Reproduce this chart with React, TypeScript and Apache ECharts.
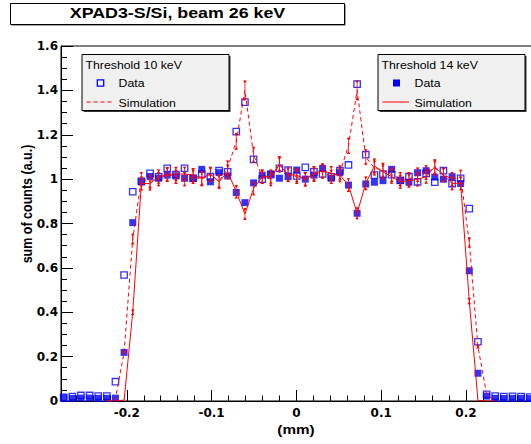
import React, { useEffect, useRef } from 'react';
import * as echarts from 'echarts';

// Pixel-column positions along the scan (mm)
const positionsMm = [
  -0.2744, -0.2642, -0.2541, -0.2439, -0.2337, -0.2235, -0.2134, -0.2032,
  -0.1930, -0.1828, -0.1726, -0.1625, -0.1523, -0.1421, -0.1319, -0.1218, -0.1116, -0.1014,
  -0.0912, -0.0811, -0.0709, -0.0607, -0.0505, -0.0403, -0.0302, -0.0200, -0.0098,
  0.0004, 0.0105, 0.0207, 0.0309, 0.0411, 0.0513, 0.0614, 0.0716, 0.0818, 0.0920,
  0.1021, 0.1123, 0.1225, 0.1327, 0.1429, 0.1530, 0.1632, 0.1734, 0.1836, 0.1937,
  0.2039, 0.2141, 0.2243, 0.2344, 0.2446, 0.2548, 0.2650, 0.2751,
];

// Threshold 10 keV, measured (open squares)
const data10keV = [
  0.016, 0.020, 0.025, 0.025, 0.022, 0.022, 0.087, 0.568,
  0.943, 0.990, 1.026, 1.010, 1.049, 1.020, 1.049, 1.004, 1.023, 1.011,
  1.038, 1.033, 1.214, 1.347, 1.089, 1.000, 1.020, 1.049, 1.041,
  1.014, 1.053, 1.033, 1.023, 1.010, 1.038, 1.064, 1.428, 1.110, 1.018,
  1.023, 1.020, 0.995, 1.011, 0.988, 1.026, 0.986, 1.038, 0.980, 1.004,
  0.867, 0.267, 0.030, 0.022, 0.020, 0.021, 0.020, 0.018,
];

// Threshold 14 keV, measured (filled squares)
const data14keV = [
  0.012, 0.012, 0.013, 0.013, 0.012, 0.012, 0.013, 0.219,
  0.804, 0.988, 1.012, 1.004, 1.018, 1.014, 1.004, 1.004, 1.044, 0.988,
  1.029, 1.014, 0.940, 0.894, 0.983, 1.018, 1.023, 1.004, 1.011,
  1.041, 1.000, 1.018, 1.048, 1.004, 1.029, 0.973, 0.846, 0.978, 0.986,
  0.993, 1.044, 0.993, 0.986, 1.029, 1.038, 1.009, 1.000, 1.011, 0.980,
  0.587, 0.125, 0.022, 0.012, 0.011, 0.012, 0.012, 0.011,
];

// Simulations start at the 6th position
const SIM_FIRST_INDEX = 5;

// Threshold 10 keV, simulation (dashed)
const sim10keV = [
  0.000, 0.010, 0.220,
  0.730, 1.000, 0.990, 1.000, 1.020, 1.010, 1.000, 1.010, 1.000, 1.020,
  0.990, 1.050, 1.170, 1.400, 1.110, 1.010, 1.000, 1.070, 1.020, 1.010,
  1.000, 1.020, 1.035, 1.010, 1.030, 1.150, 1.400, 1.100, 1.050, 1.040,
  1.020, 1.000, 1.000, 1.020, 1.030, 1.050, 1.020, 1.000, 1.010, 0.715,
  0.245, 0.030, 0.000,
];

// Threshold 14 keV, simulation (solid)
const sim14keV = [
  0.000, 0.000, 0.004,
  0.400, 0.980, 0.980, 1.011, 1.022, 1.023, 1.023, 1.018, 1.004, 1.023,
  0.988, 1.033, 0.943, 0.843, 0.958, 1.011, 1.011, 1.064, 1.020, 1.018,
  0.999, 1.026, 1.038, 1.026, 1.018, 0.973, 0.846, 0.981, 1.059, 1.033,
  1.011, 0.988, 0.993, 0.999, 1.011, 1.056, 1.018, 0.981, 0.981, 0.450,
  0.003, 0.000, 0.000,
];

const SIM_REL_ERR = 0.032;

const TITLE = 'XPAD3-S/Si, beam 26 keV';
const X_TITLE = '(mm)';
const Y_TITLE = 'sum of counts (a.u.)';
const LEGEND_10 = 'Threshold 10 keV';
const LEGEND_14 = 'Threshold 14 keV';

const BLUE = '#0000ff';
const RED = '#ff0000';
const HELV = '"Liberation Sans", Arial, Helvetica, sans-serif';
const TICKFONT = '"DejaVu Sans", sans-serif';

const fmt = (v: number) => {
  if (Math.abs(v) > 0.25 && Math.abs(v) < 0.3) return '';
  return String(Number(v.toFixed(2)));
};
const fmtY = (v: number) => String(Number(v.toFixed(2)));

function buildOption() {
  const simX = positionsMm.slice(SIM_FIRST_INDEX, SIM_FIRST_INDEX + sim10keV.length);
  const pts = (xs: number[], ys: number[]) => ys.map((y, i) => [xs[i], y]);
  const errPts = (xs: number[], ys: number[]) => ys.map((y, i) => [xs[i], y, y * SIM_REL_ERR]);

  const errorBars = (name: string, data: number[][]) => ({
    type: 'custom',
    name,
    data,
    z: 4,
    clip: false,
    encode: { x: 0, y: 1 },
    renderItem: (_params: any, api: any) => {
      const x = api.value(0);
      const v = api.value(1);
      const e = api.value(2);
      if (e < 0.004) return { type: 'group', children: [] };
      const t = api.coord([x, v + e]);
      const b = api.coord([x, v - e]);
      const w = 1.8;
      const h = 2.8;
      return {
        type: 'group',
        children: [
          { type: 'line', shape: { x1: t[0], y1: t[1], x2: b[0], y2: b[1] }, style: { stroke: RED, lineWidth: 0.8 } },
          { type: 'polygon', shape: { points: [[t[0] - w, t[1]], [t[0] + w, t[1]], [t[0], t[1] + h]] }, style: { fill: RED } },
          { type: 'polygon', shape: { points: [[b[0] - w, b[1]], [b[0] + w, b[1]], [b[0], b[1] - h]] }, style: { fill: RED } },
        ],
      };
    },
  });

  const legendBox = (x: number, title: string, filled: boolean, dashed: boolean) => [
    { type: 'rect', z: 100, shape: { x: x + 1.5, y: 56, width: 147, height: 56 }, style: { fill: '#333' } },
    { type: 'rect', z: 101, shape: { x: x, y: 54.5, width: 147, height: 56 }, style: { fill: '#f0f0f0', stroke: '#000', lineWidth: 1 } },
    { type: 'text', z: 102, x: x + 3.5, y: 64.5, scaleX: 1.12, style: { text: title, fontFamily: HELV, fontSize: 11, fill: '#000', align: 'left', verticalAlign: 'middle' } },
    filled
      ? { type: 'rect', z: 102, shape: { x: x + 15, y: 79.5, width: 7, height: 7 }, style: { fill: BLUE } }
      : { type: 'rect', z: 102, shape: { x: x + 15.3, y: 79.8, width: 6.4, height: 6.4 }, style: { fill: 'none', stroke: BLUE, lineWidth: 1.3 } },
    { type: 'text', z: 102, x: x + 36.5, y: 83, scaleX: 1.12, style: { text: 'Data', fontFamily: HELV, fontSize: 11, fill: '#000', align: 'left', verticalAlign: 'middle' } },
    { type: 'line', z: 102, shape: { x1: x + 4.5, y1: 102, x2: x + 31, y2: 102 }, style: { stroke: RED, lineWidth: 1, lineDash: dashed ? [4, 3] : null } },
    { type: 'text', z: 102, x: x + 36.5, y: 102.5, scaleX: 1.12, style: { text: 'Simulation', fontFamily: HELV, fontSize: 11, fill: '#000', align: 'left', verticalAlign: 'middle' } },
  ];

  return {
    animation: false,
    backgroundColor: '#ffffff',
    grid: {
      left: 61,
      right: -0.8,
      top: 46,
      bottom: 43,
      show: true,
      borderColor: '#000',
      borderWidth: 1,
      containLabel: false,
      outerBoundsMode: 'none',
    },
    xAxis: {
      type: 'value',
      min: -0.2776,
      max: 0.2776,
      splitNumber: 5,
      axisLine: { show: true, onZero: false, lineStyle: { color: '#000', width: 1 } },
      axisTick: { show: true, inside: true, length: 11, lineStyle: { color: '#000', width: 1 } },
      minorTick: { show: true, splitNumber: 5, length: 5.5, lineStyle: { color: '#000', width: 1 } },
      axisLabel: { margin: 6, formatter: fmt, fontFamily: TICKFONT, fontWeight: 'bold', fontSize: 12, color: '#000' },
      splitLine: { show: false },
      minorSplitLine: { show: false },
    },
    yAxis: {
      type: 'value',
      min: 0,
      max: 1.6,
      interval: 0.2,
      axisLine: { show: true, onZero: false, lineStyle: { color: '#000', width: 1 } },
      axisTick: { show: true, inside: true, length: 12, lineStyle: { color: '#000', width: 1 } },
      minorTick: { show: true, splitNumber: 4, length: 6, lineStyle: { color: '#000', width: 1 } },
      axisLabel: { margin: 3, formatter: fmtY, fontFamily: TICKFONT, fontWeight: 'bold', fontSize: 12, color: '#000' },
      splitLine: { show: false },
    },
    series: [
      {
        type: 'scatter',
        name: 'Data 10 keV',
        data: pts(positionsMm, data10keV),
        symbol: 'rect',
        symbolSize: 6.4,
        clip: false,
        z: 2,
        itemStyle: { color: 'rgba(255,255,255,0)', borderColor: BLUE, borderWidth: 1.3 },
      },
      {
        type: 'scatter',
        name: 'Data 14 keV',
        data: pts(positionsMm, data14keV),
        symbol: 'rect',
        symbolSize: 7,
        clip: false,
        z: 2,
        itemStyle: { color: BLUE },
      },
      {
        type: 'line',
        name: 'Simulation 10 keV',
        data: pts(simX, sim10keV),
        showSymbol: false,
        symbol: 'none',
        z: 3,
        lineStyle: { color: RED, width: 1, type: [4, 3] },
      },
      {
        type: 'line',
        name: 'Simulation 14 keV',
        data: pts(simX, sim14keV),
        showSymbol: false,
        symbol: 'none',
        z: 3,
        lineStyle: { color: RED, width: 1, type: 'solid' },
      },
      errorBars('Simulation 10 keV errors', errPts(simX, sim10keV)),
      errorBars('Simulation 14 keV errors', errPts(simX, sim14keV)),
    ],
    graphic: [
      { type: 'rect', z: 100, shape: { x: 11.5, y: 4.5, width: 334, height: 21 }, style: { fill: '#444' } },
      { type: 'rect', z: 101, shape: { x: 10.5, y: 3.5, width: 334, height: 21 }, style: { fill: '#fff', stroke: '#000', lineWidth: 1 } },
      { type: 'text', z: 102, x: 177.5, y: 13, scaleX: 1.15, style: { text: TITLE, fontFamily: HELV, fontWeight: 'bold', fontSize: 15.5, fill: '#000', align: 'center', verticalAlign: 'middle' } },
      ...legendBox(82, LEGEND_10, false, true),
      ...legendBox(378, LEGEND_14, true, false),
      { type: 'text', z: 50, x: 296, y: 429, scaleX: 1.13, style: { text: X_TITLE, fontFamily: HELV, fontWeight: 'bold', fontSize: 13.5, fill: '#000', align: 'center', verticalAlign: 'middle' } },
      { type: 'text', z: 50, x: 27.5, y: 204, rotation: Math.PI / 2, scaleY: 1.13, style: { text: Y_TITLE, fontFamily: HELV, fontWeight: 'bold', fontSize: 12.5, fill: '#000', align: 'center', verticalAlign: 'middle' } },
    ],
  };
}

export default function App() {
  const ref = useRef<HTMLDivElement>(null);
  useEffect(() => {
    if (!ref.current) return;
    const chart = echarts.init(ref.current, null, { renderer: 'svg' });
    chart.setOption(buildOption() as any);
    return () => chart.dispose();
  }, []);
  return (
    <div
      ref={ref}
      style={{ position: 'absolute', left: 0, top: 0, width: 531, height: 444, overflow: 'hidden' }}
    />
  );
}
